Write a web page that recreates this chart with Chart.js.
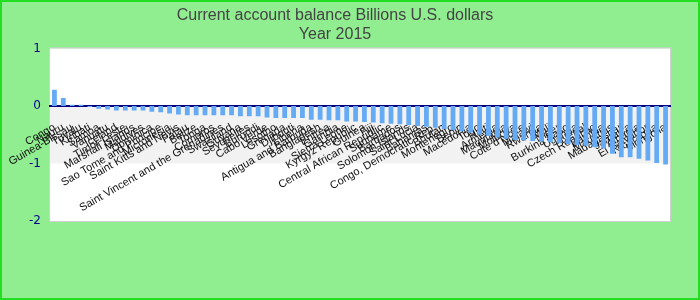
<!DOCTYPE html>
<html>
<head>
<meta charset="utf-8">
<script src="https://cdn.jsdelivr.net/npm/chart.js@4/dist/chart.umd.min.js"></script>
<style>
  html, body { margin: 0; padding: 0; background: #90ee90; }
  #wrap { width: 700px; height: 300px; }
</style>
</head>
<body>
<div id="wrap"><canvas id="chart-space"></canvas></div>
<script>
// Current account balance, billions USD, 2015
const countries = [
    "Congo", "Nauru", "Guinea-Bissau", "Tuvalu", "Kiribati", "Samoa", "Vanuatu", "Iceland",
    "Timor-Leste", "Marshall Islands", "Maldives", "Dominica", "Sao Tome and Principe",
    "Micronesia", "Saint Kitts and Nevis", "Palau", "Belize", "Tonga", "Comoros",
    "Saint Vincent and the Grenadines", "Swaziland", "Guyana", "Seychelles", "Burundi",
    "Cabo Verde", "Lesotho", "Grenada", "Djibouti", "Liberia", "Antigua and Barbuda",
    "Bangladesh", "Eritrea", "Gambia", "Sierra Leone", "Kyrgyz Republic", "Guinea", "Fiji",
    "Central African Republic", "Suriname", "Barbados", "Solomon Islands", "Saint Lucia",
    "Bahamas", "Congo, Democratic Rep.", "Bhutan", "Montenegro", "Benin", "Macedonia", "Togo",
    "Haiti", "Armenia", "Mauritania", "Moldova", "Cote d'Ivoire", "Malawi", "Rwanda", "Mali",
    "Niger", "Burkina Faso", "Uganda", "Nepal", "Czech Republic", "Zambia", "Mauritius",
    "Madagascar", "Jamaica", "Albania", "El Salvador", "Nicaragua", "Mongolia"
];
const balance = [
    0.28, 0.14, 0.02, 0.02, -0.02, -0.05, -0.06, -0.08, -0.08, -0.08,
    -0.08, -0.10, -0.11, -0.13, -0.15, -0.16, -0.16, -0.16, -0.16, -0.16,
    -0.16, -0.18, -0.18, -0.18, -0.20, -0.21, -0.21, -0.21, -0.21, -0.24,
    -0.24, -0.25, -0.25, -0.27, -0.27, -0.28, -0.29, -0.30, -0.31, -0.32,
    -0.33, -0.35, -0.36, -0.38, -0.40, -0.42, -0.44, -0.46, -0.50, -0.52,
    -0.55, -0.57, -0.59, -0.60, -0.61, -0.62, -0.63, -0.65, -0.66, -0.68,
    -0.69, -0.72, -0.74, -0.83, -0.89, -0.89, -0.92, -0.95, -0.99, -1.02
];
const titleLines = ["Current account balance Billions U.S. dollars", "Year 2015"];

const chartSpace = document.querySelector("#chart-space").getContext('2d');

// green page, white plot with a grey band between 0 and -1
const backdrop = {
    id: 'backdrop',
    beforeDraw(chart) {
        const ctx = chart.ctx;
        const area = chart.chartArea;
        const y = chart.scales.y;
        ctx.save();
        ctx.fillStyle = '#90ee90';
        ctx.fillRect(0, 0, chart.width, chart.height);
        ctx.strokeStyle = '#22dd22';
        ctx.lineWidth = 2;
        ctx.strokeRect(1, 1, chart.width - 2, chart.height - 2);
        ctx.fillStyle = '#ffffff';
        ctx.fillRect(area.left, area.top, area.right - area.left, area.bottom - area.top);
        ctx.fillStyle = '#f2f2f2';
        ctx.fillRect(area.left, y.getPixelForValue(0), area.right - area.left,
            y.getPixelForValue(-1) - y.getPixelForValue(0));
        ctx.strokeStyle = '#d0d0d0';
        ctx.lineWidth = 1;
        ctx.strokeRect(area.left - 0.5, area.top - 0.5, area.right - area.left + 1, area.bottom - area.top + 1);
        ctx.restore();
    }
};

new Chart(chartSpace, {
    type: 'bar',
    plugins: [backdrop],
    data: {
        labels: countries,
        datasets: [{
            label: 'Current account balance',
            data: balance,
            backgroundColor: '#64aaf5',
            borderWidth: 0,
            barPercentage: 0.6,
            categoryPercentage: 0.9
        }]
    },
    options: {
        responsive: true,
        maintainAspectRatio: false,
        animation: false,
        layout: { padding: { left: 0, right: 30, bottom: 79, top: 0 } },
        plugins: {
            legend: { display: false },
            tooltip: { enabled: false },
            title: {
                display: true,
                text: titleLines,
                color: '#444444',
                font: { family: 'Liberation Sans, Arial', size: 16, weight: 'normal', lineHeight: 1.2 },
                padding: { top: 6, bottom: 4 }
            }
        },
        scales: {
            x: {
                position: { y: 0 },
                grid: { display: false, drawTicks: false },
                border: { display: true, color: '#000080', width: 2 },
                ticks: {
                    autoSkip: false,
                    maxRotation: 30,
                    minRotation: 30,
                    padding: 15,
                    color: '#111111',
                    font: { family: 'Liberation Sans, Arial', size: 11 }
                }
            },
            y: {
                min: -2,
                max: 1,
                grid: { display: false, drawTicks: false },
                border: { display: false },
                afterFit: (scale) => { scale.width = 50; },
                ticks: {
                    stepSize: 1,
                    padding: 9,
                    color: '#00008b',
                    font: { family: 'DejaVu Sans', size: 12 }
                }
            }
        }
    }
});
</script>
</body>
</html>
